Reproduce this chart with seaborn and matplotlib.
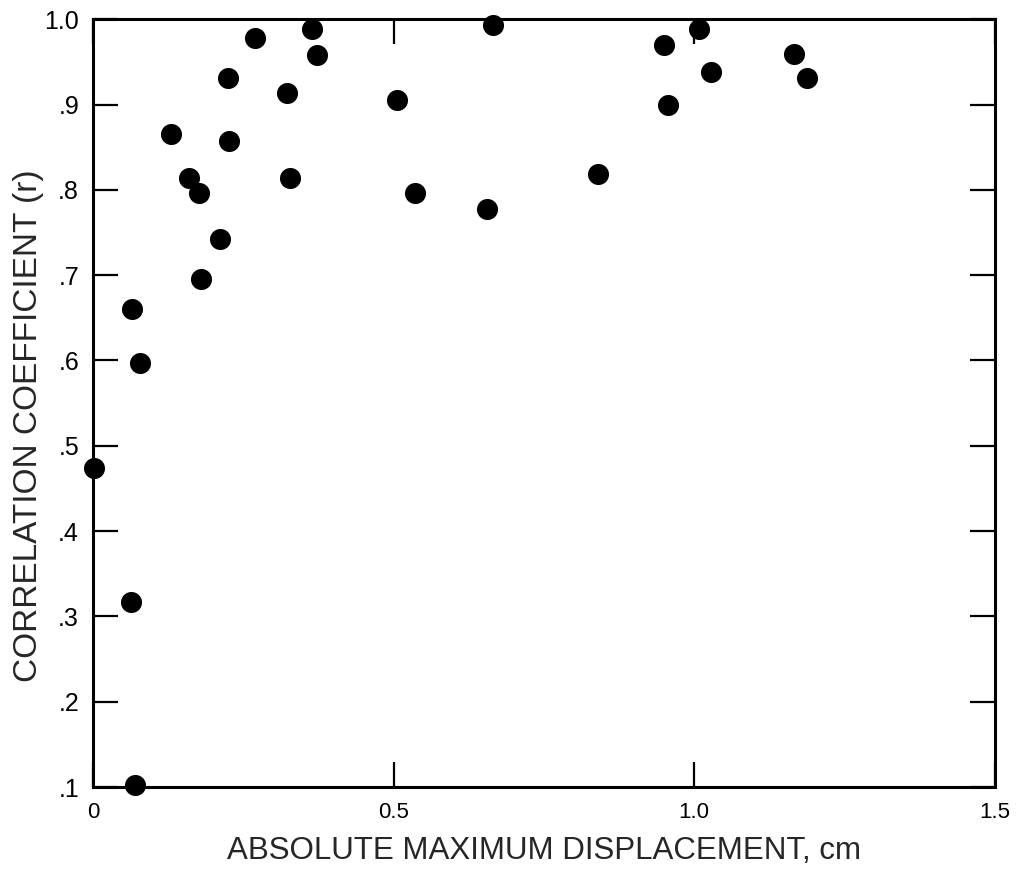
import matplotlib
matplotlib.use("Agg")
import matplotlib.pyplot as plt
import seaborn as sns
import pandas as pd

# displacement (cm) and correlation coefficient
displacement = [0.002, 0.065, 0.078, 0.063, 0.070, 0.13, 0.16, 0.177, 0.18, 0.212,
                0.225, 0.227, 0.27, 0.323, 0.328, 0.365, 0.373, 0.505, 0.535, 0.655,
                0.665, 0.84, 0.95, 0.957, 1.008, 1.028, 1.167, 1.188]
corr_r = [0.474, 0.660, 0.597, 0.317, 0.102, 0.866, 0.814, 0.796, 0.696, 0.742,
          0.931, 0.857, 0.978, 0.913, 0.814, 0.989, 0.958, 0.905, 0.796, 0.777,
          0.993, 0.818, 0.970, 0.899, 0.989, 0.938, 0.959, 0.931]

x_ticks = [0, 0.5, 1.0, 1.5]
x_labels = ["0", "0.5", "1.0", "1.5"]
y_ticks = [0.1, 0.2, 0.3, 0.4, 0.5, 0.6, 0.7, 0.8, 0.9, 1.0]
y_labels = [".1", ".2", ".3", ".4", ".5", ".6", ".7", ".8", ".9", "1.0"]

df = pd.DataFrame({"disp": displacement, "r": corr_r})

sns.set_style("ticks")
plt.rcParams['font.family'] = ['Liberation Sans', 'DejaVu Sans']

fig = plt.figure(figsize=(10.16, 8.74), dpi=100)
ax = fig.add_axes([0.0915, 0.0995, 0.8875, 0.8785])

sns.scatterplot(x="disp", y="r", data=df, ax=ax, color="black", s=230,
                edgecolor="black", linewidth=0, clip_on=False, zorder=3)

ax.set_xlim(0, 1.5)
ax.set_ylim(0.1, 1.0)
ax.set_xticks(x_ticks)
ax.set_xticklabels(x_labels)
ax.set_yticks(y_ticks)
ax.set_yticklabels(y_labels)

ax.tick_params(axis="both", direction="in", length=18, width=1.6, colors="black",
               top=True, right=True)
ax.tick_params(axis="x", pad=11, labelsize=16)
ax.tick_params(axis="y", pad=10, labelsize=18)

for side in ["left", "right", "top", "bottom"]:
    ax.spines[side].set_visible(True)
    ax.spines[side].set_linewidth(2.2)
    ax.spines[side].set_color("black")

ax.set_xlabel("ABSOLUTE MAXIMUM DISPLACEMENT, cm", fontsize=22.5, labelpad=9)
ax.set_ylabel("CORRELATION COEFFICIENT (r)", fontsize=24)
ax.yaxis.set_label_coords(-0.054, 0.47)

fig.savefig("out.png", dpi=100, facecolor="white")
